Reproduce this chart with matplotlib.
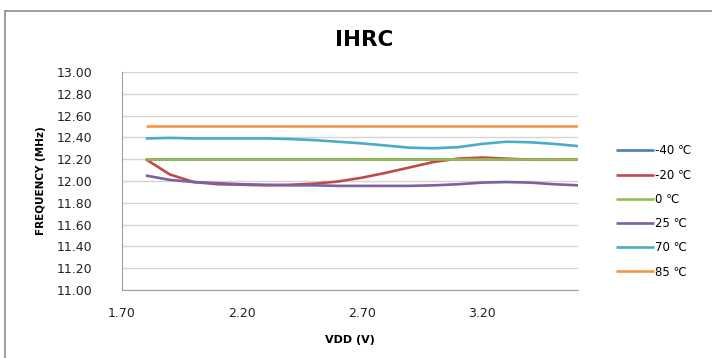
import matplotlib.pyplot as plt
from matplotlib.lines import Line2D

vdd = [1.8, 1.9, 2.0, 2.1, 2.2, 2.3, 2.4, 2.5, 2.6, 2.7,
       2.8, 2.9, 3.0, 3.1, 3.2, 3.3, 3.4, 3.5, 3.6]

f_m40 = [12.20] * 19
f_m20 = [12.20, 12.06, 11.99, 11.97, 11.965, 11.96, 11.965, 11.975, 11.995, 12.03,
         12.075, 12.125, 12.175, 12.205, 12.215, 12.205, 12.195, 12.195, 12.195]
f_0 = [12.20] * 19
f_25 = [12.05, 12.01, 11.99, 11.98, 11.97, 11.965, 11.96, 11.96, 11.955, 11.955,
        11.955, 11.955, 11.96, 11.97, 11.985, 11.99, 11.985, 11.97, 11.96]
f_70 = [12.39, 12.395, 12.39, 12.39, 12.39, 12.39, 12.385, 12.375, 12.36, 12.345,
        12.325, 12.305, 12.30, 12.31, 12.34, 12.36, 12.355, 12.34, 12.32]
f_85 = [12.50] * 19

labels = ["-40 ℃", "-20 ℃", "0 ℃", "25 ℃", "70 ℃", "85 ℃"]
colors = ["#4A7EBB", "#BE4B48", "#98B954", "#7D60A0", "#4BACC6", "#F79646"]
x_ticks = [1.70, 2.20, 2.70, 3.20]
y_ticks = [11.0 + 0.2 * i for i in range(11)]

plt.rcParams['font.family'] = ['DejaVu Sans', 'Noto Sans CJK SC']

fig = plt.figure(figsize=(7.12, 3.58), dpi=100)
# chart frame: top and left edges only
fig.lines.append(Line2D([0.007, 1.0], [0.969, 0.969], transform=fig.transFigure,
                        color="#8c8c8c", linewidth=1.2))
fig.lines.append(Line2D([0.007, 0.007], [0.0, 0.969], transform=fig.transFigure,
                        color="#8c8c8c", linewidth=1.2))
ax = fig.add_axes([0.171, 0.19, 0.641, 0.609])

series = [f_m40, f_m20, f_0, f_25, f_70, f_85]
for vals, lab, col in zip(series, labels, colors):
    ax.plot(vdd, vals, color=col, linewidth=1.9, label=lab, solid_capstyle="butt")

ax.set_xlim(1.70, 3.60)
ax.set_ylim(11.0, 13.0)
ax.set_xticks(x_ticks)
ax.set_xticklabels([f"{v:.2f}" for v in x_ticks])
ax.set_yticks(y_ticks)
ax.set_yticklabels([f"{v:.2f}" for v in y_ticks])
ax.tick_params(length=0, labelsize=9, colors="#222222")
ax.tick_params(axis="x", pad=12)
ax.tick_params(axis="y", pad=21)
ax.grid(axis="y", color="#d4d4d4", linewidth=1.0)
ax.set_axisbelow(True)
for s in ["top", "right"]:
    ax.spines[s].set_visible(False)
ax.spines["left"].set_color("#a0a0a0")
ax.spines["bottom"].set_color("#a0a0a0")

ax.set_xlabel("VDD (V)", fontsize=8, fontweight="bold", labelpad=11)
ax.set_ylabel("FREQUENCY (MHz)", fontsize=7.5, fontweight="bold", labelpad=8)
fig.text(0.512, 0.889, "IHRC", fontsize=15.5, fontweight="bold", ha="center", va="center")

ax.legend(loc="center left", bbox_to_anchor=(1.06, 0.36), frameon=False, fontsize=8.5,
          handlelength=3.2, handletextpad=0.1, labelspacing=0.95)

fig.savefig("out.png", dpi=100)
